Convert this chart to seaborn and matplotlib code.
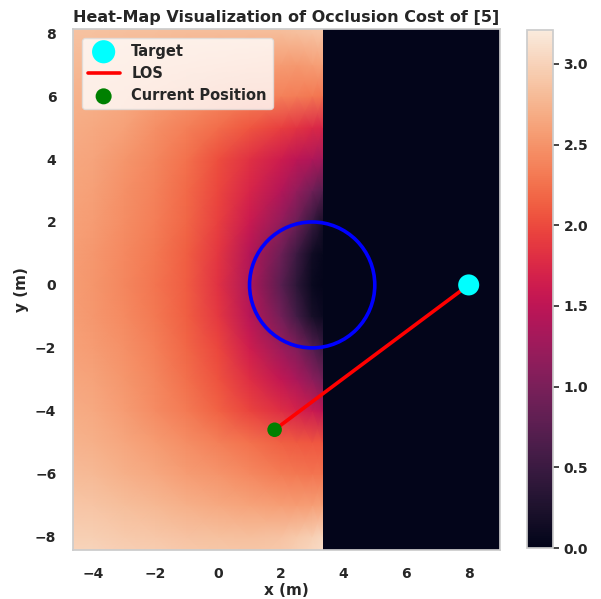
import numpy as np
import matplotlib
matplotlib.use("Agg")
import matplotlib.pyplot as plt
from matplotlib.patches import Circle
from matplotlib.colors import Normalize
import seaborn as sns

# Sample grid of the occlusion-cost field (metres); the field is zero for x > 3.33
x_nodes = [-5.0, -4.0, -3.0, -2.0, -1.0, 0.0, 1.0, 2.0, 2.5, 3.0, 3.33]

cost_y_p9 = [2.92, 2.92, 2.91, 2.90, 2.89, 2.88, 2.88, 2.89, 2.91, 2.93, 2.95]
cost_y_p8 = [2.86, 2.85, 2.84, 2.83, 2.82, 2.81, 2.81, 2.82, 2.84, 2.86, 2.88]
cost_y_p7 = [2.80, 2.78, 2.75, 2.72, 2.68, 2.64, 2.60, 2.56, 2.54, 2.58, 2.60]
cost_y_p6 = [2.74, 2.72, 2.66, 2.58, 2.50, 2.42, 2.36, 2.36, 2.34, 2.30, 2.28]
cost_y_p5 = [2.70, 2.67, 2.60, 2.47, 2.35, 2.23, 2.08, 1.92, 1.85, 1.76, 1.72]
cost_y_p4 = [2.67, 2.63, 2.52, 2.40, 2.25, 2.03, 1.82, 1.62, 1.50, 1.40, 1.30]
cost_y_p3 = [2.64, 2.59, 2.48, 2.36, 2.20, 1.97, 1.73, 1.42, 1.20, 0.92, 0.72]
cost_y_p2 = [2.62, 2.56, 2.45, 2.34, 2.17, 1.92, 1.60, 1.18, 0.90, 0.48, 0.20]
cost_y_p1 = [2.60, 2.53, 2.42, 2.30, 2.13, 1.86, 1.44, 0.90, 0.52, 0.15, 0.05]
cost_y_0 = [2.59, 2.52, 2.40, 2.28, 2.11, 1.82, 1.38, 0.75, 0.38, 0.08, 0.02]
cost_y_m1 = [2.60, 2.53, 2.43, 2.30, 2.13, 1.88, 1.46, 0.95, 0.57, 0.20, 0.10]
cost_y_m2 = [2.62, 2.57, 2.48, 2.35, 2.18, 1.97, 1.64, 1.25, 1.05, 0.72, 0.50]
cost_y_m3 = [2.65, 2.61, 2.52, 2.40, 2.24, 2.05, 1.80, 1.53, 1.36, 1.13, 0.95]
cost_y_m4 = [2.70, 2.66, 2.57, 2.44, 2.31, 2.15, 1.96, 1.80, 1.70, 1.60, 1.50]
cost_y_m5 = [2.75, 2.72, 2.64, 2.55, 2.45, 2.35, 2.25, 2.14, 2.10, 2.08, 2.07]
cost_y_m6 = [2.82, 2.79, 2.72, 2.65, 2.57, 2.50, 2.41, 2.33, 2.30, 2.28, 2.28]
cost_y_m7 = [2.90, 2.88, 2.83, 2.78, 2.72, 2.66, 2.61, 2.58, 2.57, 2.58, 2.60]
cost_y_m8 = [2.98, 2.96, 2.93, 2.90, 2.87, 2.85, 2.84, 2.86, 2.91, 2.97, 3.03]
cost_y_m9 = [3.05, 3.05, 3.02, 3.00, 2.97, 2.95, 2.95, 2.98, 3.03, 3.10, 3.15]

y_nodes = [-9, -8, -7, -6, -5, -4, -3, -2, -1, 0, 1, 2, 3, 4, 5, 6, 7, 8, 9]
cost_rows = [cost_y_m9, cost_y_m8, cost_y_m7, cost_y_m6, cost_y_m5, cost_y_m4,
             cost_y_m3, cost_y_m2, cost_y_m1, cost_y_0, cost_y_p1, cost_y_p2,
             cost_y_p3, cost_y_p4, cost_y_p5, cost_y_p6, cost_y_p7, cost_y_p8,
             cost_y_p9]

# Zero-cost region right of the visibility boundary
shadow_x = [3.33, 9.5]
shadow_y = [-9.0, 9.0]
shadow_cost = 0.0

obstacle_center = (3.0, 0.0)
obstacle_radius = 2.0
target = (8.0, 0.0)
current_position = (1.8, -4.6)

cbar_ticks = [0.0, 0.5, 1.0, 1.5, 2.0, 2.5, 3.0]
x_ticks = [-4, -2, 0, 2, 4, 6, 8]
y_ticks = [-8, -6, -4, -2, 0, 2, 4, 6, 8]

sns.set_theme(style="whitegrid")
plt.rcParams.update({
    "font.family": ["DejaVu Sans"],
    "font.weight": "bold",
    "axes.labelweight": "bold",
    "axes.titleweight": "bold",
})

fig = plt.figure(figsize=(6.01, 5.99), dpi=100)
ax = fig.add_axes([73 / 601, 49 / 599, 427 / 601, 521 / 599])
cax = fig.add_axes([527 / 601, 51 / 599, 26 / 601, 518 / 599])

cmap = sns.color_palette("rocket", as_cmap=True)
norm = Normalize(vmin=0.0, vmax=3.21)

X, Y = np.meshgrid(x_nodes, y_nodes)
Z = np.array(cost_rows)
field = ax.pcolormesh(X, Y, Z, shading="gouraud", cmap=cmap, norm=norm,
                      rasterized=True, zorder=1)
ax.pcolormesh(np.array(shadow_x), np.array(shadow_y),
              np.full((1, 1), shadow_cost), shading="flat", cmap=cmap,
              norm=norm, zorder=1)

# Obstacle outline
ax.add_patch(Circle(obstacle_center, obstacle_radius, fill=False,
                    edgecolor="blue", linewidth=2.6, zorder=3))

sns.scatterplot(x=[target[0]], y=[target[1]], color="cyan", s=230,
                edgecolor="none", label="Target", ax=ax, zorder=6)
sns.lineplot(x=[current_position[0], target[0]],
             y=[current_position[1], target[1]],
             color="red", linewidth=2.6, sort=False, label="LOS", ax=ax,
             zorder=4)
sns.scatterplot(x=[current_position[0]], y=[current_position[1]],
                color="green", s=110, edgecolor="none",
                label="Current Position", ax=ax, zorder=6)

ax.set_xlim(-4.64, 9.0)
ax.set_ylim(-8.42, 8.13)
ax.grid(False)
ax.set_xticks(x_ticks)
ax.set_yticks(y_ticks)
ax.tick_params(labelsize=10, colors="#262626", pad=6)
ax.set_xlabel("x (m)", fontsize=11, labelpad=2)
ax.set_ylabel("y (m)", fontsize=11, labelpad=4)
ax.set_title("Heat-Map Visualization of Occlusion Cost of [5]",
             fontsize=11.5, pad=5)
for sp in ax.spines.values():
    sp.set_edgecolor("#cccccc")

leg = ax.legend(loc="upper left", fontsize=10.5, frameon=True, framealpha=0.8,
                borderaxespad=0.6, handlelength=2.2, labelspacing=0.5,
                markerscale=1.1, borderpad=0.4)
leg.get_frame().set_facecolor("white")
leg.get_frame().set_edgecolor("#dddddd")

cb = fig.colorbar(field, cax=cax, ticks=cbar_ticks)
cb.ax.set_yticklabels([f"{t:.1f}" for t in cbar_ticks])
cb.ax.tick_params(labelsize=10, length=4, width=1.2, colors="#262626",
                  right=True)
cb.outline.set_edgecolor("#cccccc")

fig.savefig("out.png", dpi=100)
